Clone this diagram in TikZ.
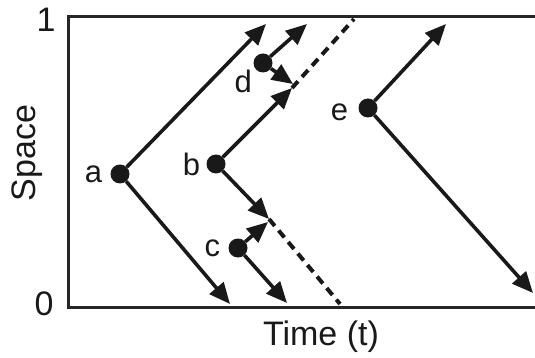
\documentclass[tikz,border=0pt]{standalone}
\usepackage{fontspec}
\setmainfont{Liberation Sans}
\usetikzlibrary{arrows.meta,positioning}

\begin{document}
\begin{tikzpicture}[
  x=1pt, y=-1pt,
  dot/.style={circle, fill=black!90, inner sep=0pt, minimum size=19pt},
  lbl/.style={font=\fontsize{31}{31}\selectfont, inner sep=0pt, text=black!90},
  axlbl/.style={font=\fontsize{34}{34}\selectfont, inner sep=0pt, text=black!90},
  arrow/.style={-{Triangle[length=21pt,width=18pt]}, line width=3.6pt, draw=black!90},
  dashline/.style={line width=4pt, dash pattern=on 9pt off 6pt, draw=black!90},
]
\useasboundingbox (0,0) rectangle (535,358);

%% --- Frame and axes ---
\draw[line width=3pt, draw=black!85] (535,17) -- (68,17) -- (68,307) -- (535,307);
\node[axlbl] (one)  at (46,20)  {1};
\node[axlbl] (zero) at (44,304) {0};
\node[axlbl, rotate=90] (space) at (27,153) {Space};
\node[axlbl] (time) at (321,337) {Time (t)};

%% --- Events ---
\node[dot] (a) at (120,174) {};
\node[dot] (b) at (216,164) {};
\node[dot] (c) at (238,248) {};
\node[dot] (d) at (263,63)  {};
\node[dot] (e) at (368,108) {};

\node[lbl, left=8pt of a] (la) {a};
\node[lbl, left=6pt of b] (lb) {b};
\node[lbl, left=8pt of c] (lc) {c};
\node[lbl, below left=0pt and 4pt of d] (ld) {d};
\node[lbl, left=10pt of e, yshift=-4pt] (le) {e};

%% --- Arrow ends ---
\coordinate (a1) at (266,24);
\coordinate (a2) at (230,304);
\coordinate (b1) at (292,88);
\coordinate (b2) at (269,219);
\coordinate (c1) at (268,222);
\coordinate (c2) at (287,303);
\coordinate (d1) at (307,24);
\coordinate (d2) at (293,84);
\coordinate (e1) at (446,24);
\coordinate (e2) at (533,293);
\coordinate (bt) at (354,19);
\coordinate (bb) at (340,304);

%% --- Signals ---
\foreach \s/\t in {a/a1, a/a2, b/b1, b/b2, c/c1, c/c2, d/d1, d/d2, e/e1, e/e2}
  \draw[arrow] (\s) -- (\t);

\draw[dashline] (b1) -- (bt);
\draw[dashline] (b2) -- (bb);

\end{tikzpicture}
\end{document}
